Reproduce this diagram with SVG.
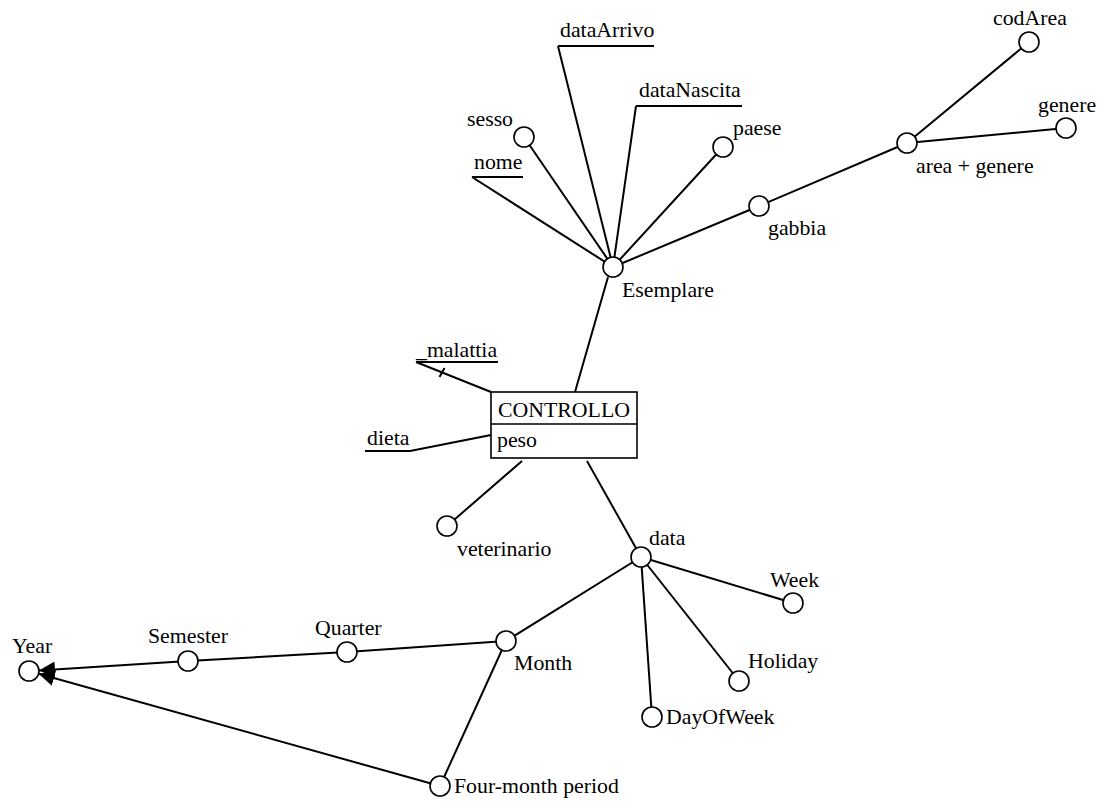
<svg xmlns="http://www.w3.org/2000/svg" width="1099" height="804" viewBox="0 0 1099 804">
<style>
text{font-family:"Liberation Serif","Times New Roman",Times,serif;font-size:21.8px;fill:#000}
.l{stroke:#000;stroke-width:2;fill:none}
.c{fill:#fff;stroke:#000;stroke-width:1.6}
</style>
<defs>
<marker id="ah" viewBox="0 0 10 10" refX="10" refY="5" markerWidth="16" markerHeight="16" markerUnits="userSpaceOnUse" orient="auto">
<path d="M0,0 L10,5 L0,10 z" fill="#000"/>
</marker>
</defs>
<rect width="1099" height="804" fill="#fff"/>
<g id="connectors">
<line class="l" x1="472" y1="177" x2="613" y2="267"/>
<line class="l" x1="524" y1="137" x2="613" y2="267"/>
<line class="l" x1="558" y1="46" x2="613" y2="267"/>
<line class="l" x1="636" y1="106" x2="613" y2="267"/>
<line class="l" x1="723" y1="147" x2="613" y2="267"/>
<line class="l" x1="613" y1="267" x2="759" y2="206"/>
<line class="l" x1="759" y1="206" x2="907" y2="143"/>
<line class="l" x1="907" y1="143" x2="1029" y2="42"/>
<line class="l" x1="907" y1="143" x2="1066" y2="128"/>
<line class="l" x1="608" y1="277" x2="575" y2="392"/>
<line class="l" x1="416" y1="362" x2="491" y2="392"/>
<line class="l" x1="439.5" y1="377" x2="444.5" y2="368"/>
<line class="l" x1="410" y1="451" x2="491" y2="435"/>
<line class="l" x1="522" y1="461" x2="447" y2="526"/>
<line class="l" x1="587" y1="461" x2="641" y2="557"/>
<line class="l" x1="641" y1="557" x2="793" y2="603"/>
<line class="l" x1="641" y1="557" x2="739" y2="681"/>
<line class="l" x1="641" y1="557" x2="652" y2="717"/>
<line class="l" x1="641" y1="557" x2="506" y2="641"/>
<line class="l" x1="506" y1="641" x2="347" y2="652"/>
<line class="l" x1="347" y1="652" x2="188" y2="661"/>
<line class="l" x1="506" y1="641" x2="440" y2="786"/>
<line class="l" x1="188" y1="661" x2="39" y2="670.4" marker-end="url(#ah)"/>
<line class="l" x1="440" y1="786" x2="38.6" y2="673.7" marker-end="url(#ah)"/>
</g>
<g id="nome"><line class="l" x1="472" y1="177" x2="523" y2="177"/><text x="474" y="169">nome</text></g>
<g id="dataArrivo"><line class="l" x1="558" y1="46" x2="654" y2="46"/><text x="560" y="37">dataArrivo</text></g>
<g id="dataNascita"><line class="l" x1="636" y1="106" x2="742" y2="106"/><text x="639" y="97">dataNascita</text></g>
<g id="sesso"><circle class="c" cx="524" cy="137" r="10"/><text x="467" y="126">sesso</text></g>
<g id="paese"><circle class="c" cx="723" cy="147" r="10"/><text x="733" y="135">paese</text></g>
<g id="esemplare"><circle class="c" cx="613" cy="267" r="10"/><text x="622" y="297">Esemplare</text></g>
<g id="gabbia"><circle class="c" cx="759" cy="206" r="10"/><text x="768" y="235">gabbia</text></g>
<g id="areagenere"><circle class="c" cx="907" cy="143" r="10"/><text x="916" y="173">area + genere</text></g>
<g id="codArea"><circle class="c" cx="1029" cy="42" r="10"/><text x="993" y="25">codArea</text></g>
<g id="genere"><circle class="c" cx="1066" cy="128" r="10"/><text x="1038" y="112">genere</text></g>
<g id="controllo">
<rect x="491" y="392" width="146" height="66" fill="#fff" stroke="#000" stroke-width="1.6"/>
<line x1="491" y1="424" x2="637" y2="424" stroke="#000" stroke-width="1.6"/>
<text x="498" y="417">CONTROLLO</text>
<text x="497" y="447">peso</text>
</g>
<g id="malattia"><line class="l" x1="416" y1="362" x2="498" y2="362"/><text x="416" y="357">_malattia</text></g>
<g id="dieta"><line class="l" x1="365" y1="451" x2="410" y2="451"/><text x="367" y="445">dieta</text></g>
<g id="veterinario"><circle class="c" cx="447" cy="526" r="10"/><text x="457" y="556">veterinario</text></g>
<g id="data"><circle class="c" cx="641" cy="557" r="10"/><text x="649" y="545">data</text></g>
<g id="week"><circle class="c" cx="793" cy="603" r="10"/><text x="770" y="587">Week</text></g>
<g id="holiday"><circle class="c" cx="739" cy="681" r="10"/><text x="748" y="668">Holiday</text></g>
<g id="dayofweek"><circle class="c" cx="652" cy="717" r="10"/><text x="666" y="724">DayOfWeek</text></g>
<g id="month"><circle class="c" cx="506" cy="641" r="10"/><text x="514" y="670">Month</text></g>
<g id="fourmonth"><circle class="c" cx="440" cy="786" r="10"/><text x="454" y="793">Four-month period</text></g>
<g id="quarter"><circle class="c" cx="347" cy="652" r="10"/><text x="315" y="635">Quarter</text></g>
<g id="semester"><circle class="c" cx="188" cy="661" r="10"/><text x="148" y="643">Semester</text></g>
<g id="year"><circle class="c" cx="29" cy="671" r="10"/><text x="12" y="653">Year</text></g>
</svg>
